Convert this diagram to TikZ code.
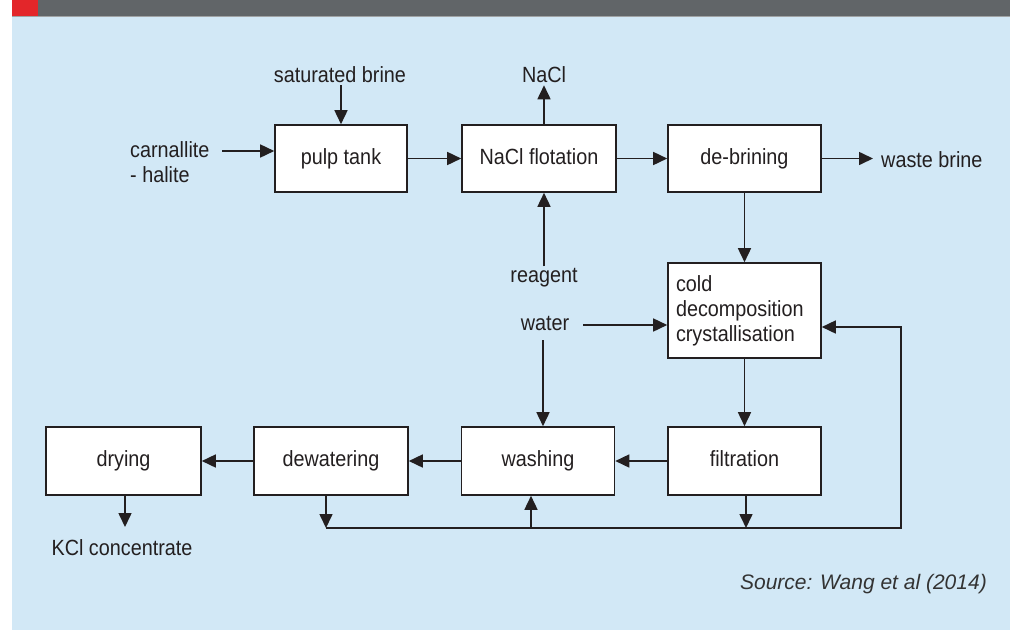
\documentclass[tikz,border=0pt]{standalone}
\usepackage{fontspec}
\setmainfont{Liberation Sans}[FakeStretch=0.9]
\newfontfamily\srcfont{Liberation Sans}
\usetikzlibrary{arrows.meta,calc}
\definecolor{bgblue}{HTML}{D2E8F6}
\definecolor{hdrgrey}{HTML}{616568}
\definecolor{hdrred}{HTML}{E3262A}
\definecolor{ink}{HTML}{231F20}
\definecolor{srcgrey}{HTML}{333333}
\tikzset{
  every node/.style={font=\fontsize{22}{25}\selectfont, text=ink},
  procbox/.style={draw=ink, line width=1.6pt, fill=white, inner sep=0pt, align=center, text height=16pt, text depth=5pt},
  lbl/.style={inner sep=2pt},
  flow/.style={draw=ink, line width=1.6pt, -{Triangle[length=14pt,width=13pt]}},
}
\begin{document}
\begin{tikzpicture}[x=1pt,y=-1pt]
\useasboundingbox (0,0) rectangle (1010,630);
% background and header
\fill[bgblue] (12,16) rectangle (1010,630);
\fill[hdrgrey] (38,0) rectangle (1010,16);
\fill[hdrred] (12,0) rectangle (38,16);
\draw[color=hdrgrey!60!white, line width=0.8pt] (12,16) -- (1010,16);

% process boxes
\node[procbox, minimum width=132pt, minimum height=67pt] (pulp) at (341,158.5) {pulp tank};
\node[procbox, minimum width=154pt, minimum height=67pt] (flot) at (539,158.5) {NaCl flotation};
\node[procbox, minimum width=153pt, minimum height=67pt] (debr) at (744.5,158.5) {de-brining};
\node[procbox, minimum width=153pt, minimum height=95pt, text width=137pt, align=left, inner xsep=8pt, text height=, text depth=] (cold) at (744.5,310.5) {cold\\decomposition\\crystallisation};
\node[procbox, minimum width=153pt, minimum height=68pt] (filt) at (744.5,461) {filtration};
\node[procbox, minimum width=153pt, minimum height=68pt] (wash) at (538,461) {washing};
\node[procbox, minimum width=154pt, minimum height=68pt] (dewa) at (331,461) {dewatering};
\node[procbox, minimum width=155pt, minimum height=68pt] (dry) at (123.5,461) {drying};

% labels
\node[lbl, anchor=west, align=left] (carn) at (128,162) {carnallite\\- halite};
\node[lbl] (sat) at (340,75) {saturated brine};
\node[lbl] (nacl) at (544,75) {NaCl};
\node[lbl] (reag) at (544,278) {reagent};
\node[lbl] (water) at (545,323) {water};
\node[lbl, anchor=west, inner xsep=8pt] (waste) at (873,160) {waste brine};
\node[lbl] (kcl) at (122,548) {KCl concentrate};
\node[lbl, anchor=east, text=srcgrey, font=\srcfont\itshape\fontsize{21}{25}\selectfont] (src) at (989,584) {Source: Wang et al (2014)};

% helper coordinates
\coordinate (cin) at (222,151);
\coordinate (win) at (583,325);
\coordinate (wdown) at (543,340);
\coordinate (bl) at (326,528);
\coordinate (br) at (901,528);
\coordinate (bw) at (531,528);
\coordinate (bf) at (746,528);
\coordinate (fbin) at ([yshift=-16.5pt]cold.east);
\coordinate (dryout) at (125,527);

% connectors
\draw[flow] (cin) -- (cin -| pulp.west);
\draw[flow] (pulp.north |- sat.south) -- (pulp.north);
\draw[flow] (pulp.east) -- (flot.west);
\draw[flow] (nacl.south |- flot.north) -- (nacl.south);
\draw[flow] (flot.east) -- (debr.west);
\draw[flow] (debr.east) -- (debr.east -| waste.west);
\draw[flow] (debr.south) -- (cold.north);
\draw[flow] (reag.north) -- (reag.north |- flot.south);
\draw[flow] (win) -- (win -| cold.west);
\draw[flow] (wdown) -- (wdown |- wash.north);
\draw[flow] (cold.south) -- (filt.north);
\draw[flow] (filt.west) -- (wash.east);
\draw[flow] (wash.west) -- (dewa.east);
\draw[flow] (dewa.west) -- (dry.east);
\draw[flow] (dryout |- dry.south) -- (dryout);
\draw[flow] (bl |- dewa.south) -- (bl);
\draw[flow] (bf |- filt.south) -- (bf);
\draw[flow] (bw) -- (bw |- wash.south);
\draw[flow] (bl) -- (br) -- (br |- fbin) -- (fbin);
\end{tikzpicture}
\end{document}
